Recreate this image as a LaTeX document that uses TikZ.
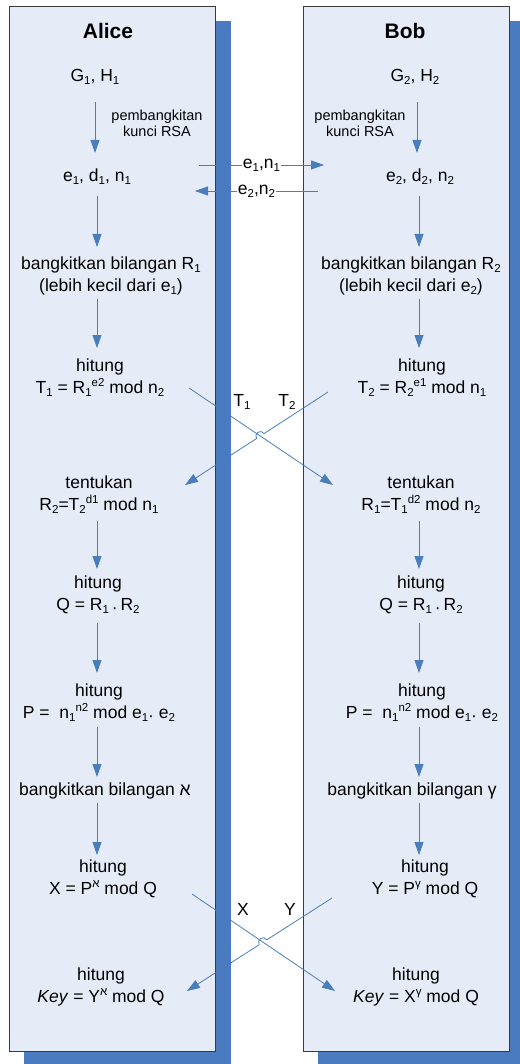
\documentclass[tikz,border=0pt]{standalone}
\usepackage{fontspec}
\setmainfont{Liberation Sans}
\usetikzlibrary{arrows.meta,calc,intersections}
\definecolor{panelfill}{HTML}{E6ECF7}
\definecolor{shadowblue}{HTML}{4A7BC0}
\definecolor{linkblue}{HTML}{4A7EBB}
\definecolor{panelborder}{HTML}{3A3A3A}
\newcommand\bodyfs{\fontsize{17.5}{22}\selectfont}
\newcommand\smallfs{\fontsize{14.5}{16}\selectfont}
\newcommand\titlefs{\fontsize{21}{25}\selectfont}
\newcommand\sbs[1]{\raisebox{-0.35ex}{\fontsize{11.5}{12}\selectfont #1}}
\newcommand\sps[1]{\raisebox{0.8ex}{\fontsize{11.5}{12}\selectfont #1}}
\newcommand\mdot{\raisebox{-0.25ex}{·}}
\tikzset{
  txt/.style={font=\bodyfs, align=center, inner sep=0pt, text=black},
  smalltxt/.style={font=\smallfs, align=center, inner sep=0pt, text=black},
  titletxt/.style={font=\titlefs\bfseries, inner sep=0pt, text=black},
  arr/.style={draw=linkblue, line width=0.8pt, -{Triangle[length=13pt,width=9pt]}},
  panel/.style={fill=panelfill, draw=panelborder, line width=0.9pt},
  shadowbox/.style={fill=shadowblue},
  lbl/.style={font=\bodyfs, inner sep=1pt, fill=white, text=black},
  crosslbl/.style={font=\bodyfs, inner sep=0pt, text=black}
}
\begin{document}
\begin{tikzpicture}[x=1pt,y=-1pt]
\useasboundingbox (0,0) rectangle (519,1064);
% shadows and panels
\fill[shadowbox] (24,21) rectangle (231,1066);
\fill[shadowbox] (318,21) rectangle (526,1066);
\draw[panel] (9,6) rectangle (215,1051);
\draw[panel] (303,6) rectangle (509,1051);

% Alice column
\node[titletxt] (alice) at (108,31) {Alice};
\node[txt] (gh1) at (95,77) {G\sbs{1}, H\sbs{1}};
\node[smalltxt] (pk1) at (157,123) {pembangkitan\\kunci RSA};
\node[txt] (edn1) at (97,177) {e\sbs{1}, d\sbs{1}, n\sbs{1}};
\node[txt] (r1) at (111,276) {bangkitkan bilangan R\sbs{1}\\(lebih kecil dari e\sbs{1})};
\node[txt] (t1) at (100,378) {hitung\\T\sbs{1} = R\sbs{1}\sps{e2} mod n\sbs{2}};
\node[txt] (tent1) at (99,495) {tentukan\\R\sbs{2}=T\sbs{2}\sps{d1} mod n\sbs{1}};
\node[txt] (q1) at (98,595) {hitung\\Q = R\sbs{1}\,\mdot\,R\sbs{2}};
\node[txt] (p1) at (99,703) {hitung\\P = \ n\sbs{1}\sps{n2} mod e\sbs{1}\mdot\ e\sbs{2}};
\node[txt] (al1) at (105,791) {bangkitkan bilangan א};
\node[txt] (xx1) at (103,879) {hitung\\X = P\sps{א} mod Q};
\node[txt] (key1) at (101,987) {hitung\\\textit{Key} = Y\sps{א} mod Q};

% Bob column
\node[titletxt] (bob) at (405,31) {Bob};
\node[txt] (gh2) at (415,77) {G\sbs{2}, H\sbs{2}};
\node[smalltxt] (pk2) at (360,123) {pembangkitan\\kunci RSA};
\node[txt] (edn2) at (420,177) {e\sbs{2}, d\sbs{2}, n\sbs{2}};
\node[txt] (r2) at (411,276) {bangkitkan bilangan R\sbs{2}\\(lebih kecil dari e\sbs{2})};
\node[txt] (t2) at (422,378) {hitung\\T\sbs{2} = R\sbs{2}\sps{e1} mod n\sbs{1}};
\node[txt] (tent2) at (421,495) {tentukan\\R\sbs{1}=T\sbs{1}\sps{d2} mod n\sbs{2}};
\node[txt] (q2) at (421,595) {hitung\\Q = R\sbs{1}\,\mdot\,R\sbs{2}};
\node[txt] (p2) at (422,703) {hitung\\P = \ n\sbs{1}\sps{n2} mod e\sbs{1}\mdot\ e\sbs{2}};
\node[txt] (gam) at (412,791) {bangkitkan bilangan γ};
\node[txt] (yy2) at (425,879) {hitung\\Y = P\sps{γ} mod Q};
\node[txt] (key2) at (416,987) {hitung\\\textit{Key} = X\sps{γ} mod Q};

% vertical arrow end points
\foreach \n/\xa/\ya/\yb in {1/95/102/153, 2/97/196/247, 3/97/299/348, 4/97/521/569, 5/97/623/673, 6/97/727/777, 7/97/803/855}{
  \coordinate (la\n) at (\xa,\ya);
  \coordinate (lb\n) at (\xa,\yb);
}
\foreach \n/\xa/\ya/\yb in {1/417/102/153, 2/419/196/247, 3/419/299/348, 4/419/521/569, 5/419/623/673, 6/419/727/777, 7/419/803/855}{
  \coordinate (ra\n) at (\xa,\ya);
  \coordinate (rb\n) at (\xa,\yb);
}
\foreach \n in {1,...,7}{
  \draw[arr] (la\n) -- (lb\n);
  \draw[arr] (ra\n) -- (rb\n);
}

% key exchange
\coordinate (ha) at (199,165);
\coordinate (hb) at (324,165);
\coordinate (hc) at (318,191);
\coordinate (hd) at (195,191);
\draw[arr] (ha) -- (hb) node[lbl, pos=0.5] (l1) {e\sbs{1},n\sbs{1}};
\draw[arr] (hc) -- (hd) node[lbl, pos=0.5] (l2) {e\sbs{2},n\sbs{2}};

% cross 1 (T1, T2)
\coordinate (c1a) at (189,388);
\coordinate (c1b) at (333,485);
\coordinate (c2a) at (328,392);
\coordinate (c2b) at (185,485);
\path[name path=pa] (c1a) -- (c1b);
\path[name path=pb] (c2a) -- (c2b);
\path[name intersections={of=pa and pb,by=hopA}];
\draw[arr] (c1a) -- (c1b);
\draw[arr] let \p1=($(c2a)-(hopA)$), \n1={atan2(\y1,\x1)} in
  (c2a) -- ($(hopA)!4.5pt!(c2a)$) arc[start angle=\n1, delta angle=180, radius=4.5pt] -- (c2b);
\node[crosslbl] (lt1) at (242,402) {T\sbs{1}};
\node[crosslbl] (lt2) at (287,402) {T\sbs{2}};

% cross 2 (X, Y)
\coordinate (d1a) at (192,894);
\coordinate (d1b) at (335,991);
\coordinate (d2a) at (332,898);
\coordinate (d2b) at (187,991);
\path[name path=pc] (d1a) -- (d1b);
\path[name path=pd] (d2a) -- (d2b);
\path[name intersections={of=pc and pd,by=hopB}];
\draw[arr] (d1a) -- (d1b);
\draw[arr] let \p1=($(d2a)-(hopB)$), \n1={atan2(\y1,\x1)} in
  (d2a) -- ($(hopB)!4.5pt!(d2a)$) arc[start angle=\n1, delta angle=180, radius=4.5pt] -- (d2b);
\node[crosslbl] (lx) at (243,909) {X};
\node[crosslbl] (ly) at (290,909) {Y};
\end{tikzpicture}
\end{document}
